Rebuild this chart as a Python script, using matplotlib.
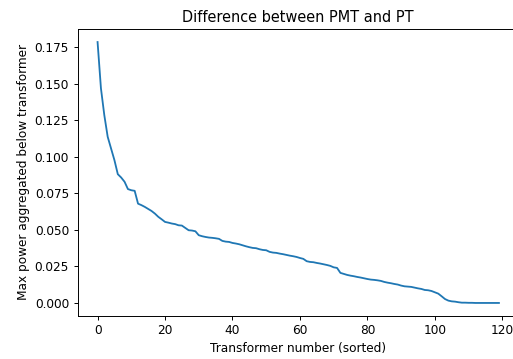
import numpy as np
import matplotlib
matplotlib.use("Agg")
import matplotlib.pyplot as plt

# max power difference per transformer, sorted descending
diff = [
    0.1787, 0.147, 0.1286, 0.1138, 0.1058, 0.0978, 0.0882, 0.0859, 0.083, 0.078,
    0.0772, 0.0768, 0.068, 0.067, 0.0658, 0.0644, 0.063, 0.0612, 0.059, 0.0573,
    0.0555, 0.055, 0.0544, 0.054, 0.0532, 0.053, 0.0514, 0.0498, 0.0496, 0.0491,
    0.0464, 0.0457, 0.0452, 0.0448, 0.0446, 0.0443, 0.0439, 0.0425, 0.042, 0.0418,
    0.0411, 0.0407, 0.0402, 0.0395, 0.0388, 0.0382, 0.0377, 0.0375, 0.0368, 0.0363,
    0.0361, 0.035, 0.0345, 0.0343, 0.0338, 0.0334, 0.0329, 0.0324, 0.032, 0.0315,
    0.0308, 0.0302, 0.0286, 0.0281, 0.0279, 0.0274, 0.027, 0.0265, 0.026, 0.0254,
    0.0244, 0.024, 0.0206, 0.0199, 0.0192, 0.0187, 0.0183, 0.0178, 0.0174, 0.0169,
    0.0164, 0.016, 0.0158, 0.0155, 0.0151, 0.0144, 0.0139, 0.0135, 0.013, 0.0126,
    0.0119, 0.0114, 0.0112, 0.011, 0.0105, 0.01, 0.0096, 0.0089, 0.0087, 0.0082,
    0.0073, 0.0064, 0.0046, 0.0027, 0.0016, 0.0011, 0.0009, 0.0005, 0.0002, 0.0002,
    0.0001, 0.0001, 0.0, 0.0, 0.0, 0.0, 0.0, 0.0, 0.0, 0.0,
]

fig = plt.figure(figsize=(513/87, 359/87), dpi=87)
# axes extend past the right edge, as in the cropped original
ax = fig.add_axes([77.5/513, 43/359, 441.5/513, 287/359])
ax.plot(np.arange(len(diff)), diff)
ax.set_title("Difference between PMT and PT")
ax.set_xlabel("Transformer number (sorted)")
ax.set_ylabel("Max power aggregated below transformer")
fig.savefig("out.png", dpi=87)
